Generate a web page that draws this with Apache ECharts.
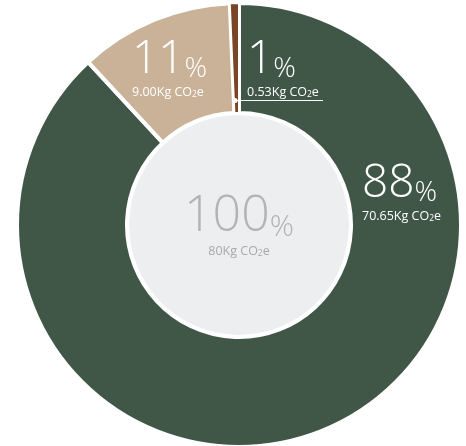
<!DOCTYPE html>
<html><head><meta charset="utf-8">
<script src="https://cdn.jsdelivr.net/npm/echarts@6/dist/echarts.min.js"></script>
<style>html,body{margin:0;padding:0;background:#fff}#c{width:466px;height:446px}</style>
</head><body><div id="c"></div>
<script>
const categories = ['Segment A', 'Segment B', 'Segment C'];
const values = [70.65, 9.00, 0.53];
const sliceColors = ['#405748', '#c9b298', '#7b4426'];
const sliceBorders = [4, 4, 2];
const totalPercentText = '100';
const totalValueText = '80';

// label layout (top-left of each label block)
const labelSpots = [[362, 161], [132, 37], [247, 37]];

const FONT = "'Open Sans', sans-serif";
function rich(col) {
  return {
    p: { fontSize: 46, fontWeight: 300, color: col, fontFamily: FONT, lineHeight: 46, verticalAlign: 'bottom' },
    s: { fontSize: 28, fontWeight: 300, color: col, fontFamily: FONT, lineHeight: 26, verticalAlign: 'bottom' },
    v: { fontSize: 12.5, color: col, fontFamily: FONT, lineHeight: 16, verticalAlign: 'bottom' },
    sub: { fontSize: 8.5, color: col, fontFamily: FONT, lineHeight: 13, verticalAlign: 'bottom' }
  };
}

const chart = echarts.init(document.getElementById('c'), null, { renderer: 'canvas' });
const cx = 239, cy = 225;
chart.setOption({
  animation: false,
  backgroundColor: '#ffffff',
  series: [
    {
      type: 'pie',
      silent: true,
      center: [cx, cy],
      radius: [0, 110],
      itemStyle: { color: '#edeef0' },
      label: {
        show: true, position: 'center',
        formatter: '{p|' + totalPercentText + '}{s|%}\n{v|' + totalValueText + 'Kg CO}{sub|2}{v|e}',
        rich: (function () {
          const r = rich('#b3b3b3');
          r.p.fontSize = 50; r.p.lineHeight = 50;
          r.s.fontSize = 30; r.s.lineHeight = 28;
          r.v.color = '#a9a9a9'; r.sub.color = '#a9a9a9';
          return r;
        })()
      },
      labelLine: { show: false },
      data: [{ value: values.reduce((a, b) => a + b, 0), name: 'Total' }]
    },
    {
      type: 'pie',
      silent: true,
      center: [cx, cy],
      radius: [112, 222],
      startAngle: 90,
      clockwise: true,
      avoidLabelOverlap: false,
      percentPrecision: 0,
      label: {
        show: true,
        position: 'outside',
        formatter: function (p) {
          return '{p|' + Math.round(p.percent) + '}{s|%}\n{v|' + p.value.toFixed(2) + 'Kg CO}{sub|2}{v|e}';
        },
        rich: rich('#ffffff')
      },
      labelLine: { show: false },
      labelLayout: function (params) {
        const s = labelSpots[params.dataIndex];
        return { x: s[0], y: s[1], align: 'left', verticalAlign: 'top' };
      },
      data: categories.map((c, i) => ({
        name: c,
        value: values[i],
        itemStyle: { color: sliceColors[i], borderColor: '#ffffff', borderWidth: sliceBorders[i] }
      }))
    }
  ],
  graphic: [
    { type: 'line', shape: { x1: 235, y1: 100.5, x2: 323, y2: 100.5 }, style: { stroke: '#ffffff', lineWidth: 1 }, z: 100 },
    { type: 'circle', shape: { cx: 235, cy: 100.5, r: 2.5 }, style: { fill: '#ffffff' }, z: 100 }
  ]
});
</script>
</body></html>
